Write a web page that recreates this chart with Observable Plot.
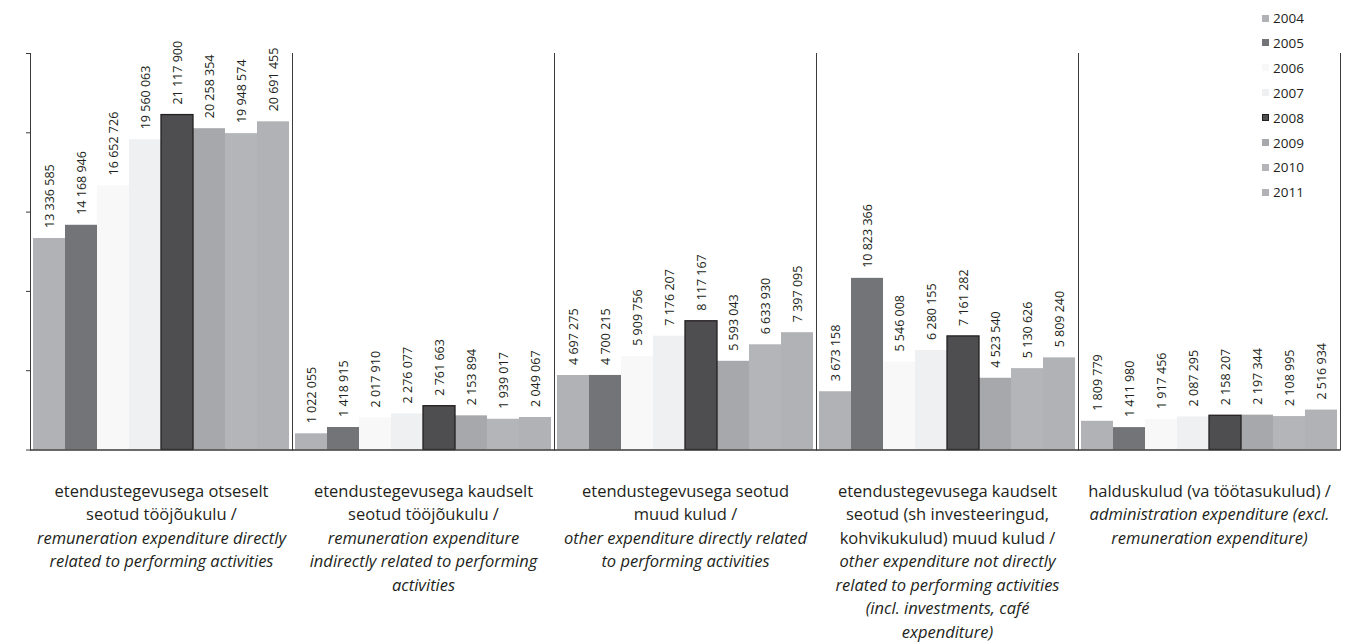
<!DOCTYPE html>
<html><head><meta charset="utf-8">
<script src="https://cdn.jsdelivr.net/npm/d3@7"></script>
<script src="https://cdn.jsdelivr.net/npm/@observablehq/plot@0.6"></script>
<style>
body{margin:0;background:#fff;font-family:"Open Sans",sans-serif;}
#wrap{position:relative;width:1356px;height:644px;}
#legend{position:absolute;left:1262px;top:0;}
.row{position:absolute;left:0;display:flex;align-items:center;height:20px;white-space:nowrap;font-size:13.5px;color:#231f20;}
.sw{width:7px;height:7px;margin-right:4px;box-sizing:border-box;}
</style></head><body><div id="wrap"></div>
<script>
const years = [2004, 2005, 2006, 2007, 2008, 2009, 2010, 2011];
const colors = ["#b1b2b6", "#737478", "#f8f8f8", "#eff0f2", "#4e4e50", "#a7a8ab", "#b4b5b8", "#b1b2b5"];
const categories = ["direct-rem", "indirect-rem", "direct-other", "indirect-other", "admin"];

const v2004 = [13336585, 1022055, 4697275, 3673158, 1809779];
const v2005 = [14168946, 1418915, 4700215, 10823366, 1411980];
const v2006 = [16652726, 2017910, 5909756, 5546008, 1917456];
const v2007 = [19560063, 2276077, 7176207, 6280155, 2087295];
const v2008 = [21117900, 2761663, 8117167, 7161282, 2158207];
const v2009 = [20258354, 2153894, 5593043, 4523540, 2197344];
const v2010 = [19948574, 1939017, 6633930, 5130626, 2108995];
const v2011 = [20691455, 2049067, 7397095, 5809240, 2516934];
const series = [v2004, v2005, v2006, v2007, v2008, v2009, v2010, v2011];

const yTicks = [0, 5000000, 10000000, 15000000, 20000000, 25000000];

const labelsEt = [
  ["etendustegevusega otseselt", "seotud tööjõukulu /"],
  ["etendustegevusega kaudselt", "seotud tööjõukulu /"],
  ["etendustegevusega seotud", "muud kulud /"],
  ["etendustegevusega kaudselt", "seotud (sh investeeringud,", "kohvikukulud) muud kulud /"],
  ["halduskulud (va töötasukulud) /"]
];
const labelsEn = [
  ["remuneration expenditure directly", "related to performing activities"],
  ["remuneration expenditure", "indirectly related to performing", "activities"],
  ["other expenditure directly related", "to performing activities"],
  ["other expenditure not directly", "related to performing activities", "(incl. investments, café", "expenditure)"],
  ["administration expenditure (excl.", "remuneration expenditure)"]
];

const fmt = d3.formatLocale({thousands: " ", grouping: [3], decimal: ","}).format(",d");

const data = categories.flatMap((c, ci) => years.map((y, yi) => ({cat: c, year: y, value: series[yi][ci]})));

const lines = categories.flatMap((c, ci) => [
  ...labelsEt[ci].map((t, i) => ({cat: c, i, text: t, italic: false})),
  ...labelsEn[ci].map((t, i) => ({cat: c, i: labelsEt[ci].length + i, text: t, italic: true}))
]);

const labelMarks = [];
for (let i = 0; i < 8; i++) {
  for (const it of [false, true]) {
    const rows = lines.filter(d => d.i === i && d.italic === it);
    if (!rows.length) continue;
    labelMarks.push(Plot.text(rows, {
      fx: "cat", text: "text", frameAnchor: "bottom", dy: 41.4 + i * 23.5,
      lineAnchor: "middle", fontSize: 16.5, fontStyle: it ? "italic" : "normal",
      fill: "#231f20", fontFamily: "Open Sans"
    }));
  }
}

const chart = Plot.plot({
  width: 1356, height: 644,
  marginLeft: 30, marginRight: 16, marginTop: 53, marginBottom: 194.5,
  style: {fontFamily: "Open Sans", background: "#fff"},
  fx: {domain: categories, padding: 0, axis: null, label: null},
  x: {domain: years, padding: 0, insetLeft: 2, insetRight: 1.5, axis: null, label: null},
  y: {domain: [0, 25000000], axis: null, label: null},
  color: {domain: years, range: colors},
  marks: [
    Plot.frame({anchor: "left", stroke: "#3a3a3a"}),
    Plot.frame({anchor: "right", stroke: "#3a3a3a"}),
    Plot.barY(data, {fx: "cat", x: "year", y: "value", fill: "year"}),
    Plot.barY(data.filter(d => d.year === 2008), {fx: "cat", x: "year", y: "value", fill: "none", stroke: "#231f20", strokeWidth: 1.3}),
    Plot.axisY({ticks: yTicks, tickFormat: () => "", tickSize: 4, stroke: "#3a3a3a", label: null}),
    Plot.ruleY([0], {stroke: "#3a3a3a", strokeWidth: 1.5}),
    Plot.text(data, {fx: "cat", x: "year", y: "value", text: d => fmt(d.value), rotate: -90, textAnchor: "start", dy: -10.5, fontSize: 12.5, fill: "#231f20"}),
    ...labelMarks
  ]
});

const wrap = document.getElementById("wrap");
wrap.appendChild(chart);

const legend = document.createElement("div");
legend.id = "legend";
years.forEach((y, i) => {
  const row = document.createElement("div");
  row.className = "row";
  row.style.top = (8 + i * 24.9) + "px";
  const sw = document.createElement("span");
  sw.className = "sw";
  sw.style.background = colors[i];
  if (y === 2008) sw.style.border = "1px solid #231f20";
  const t = document.createElement("span");
  t.textContent = String(y);
  row.appendChild(sw); row.appendChild(t);
  legend.appendChild(row);
});
wrap.appendChild(legend);
</script>
</body></html>
